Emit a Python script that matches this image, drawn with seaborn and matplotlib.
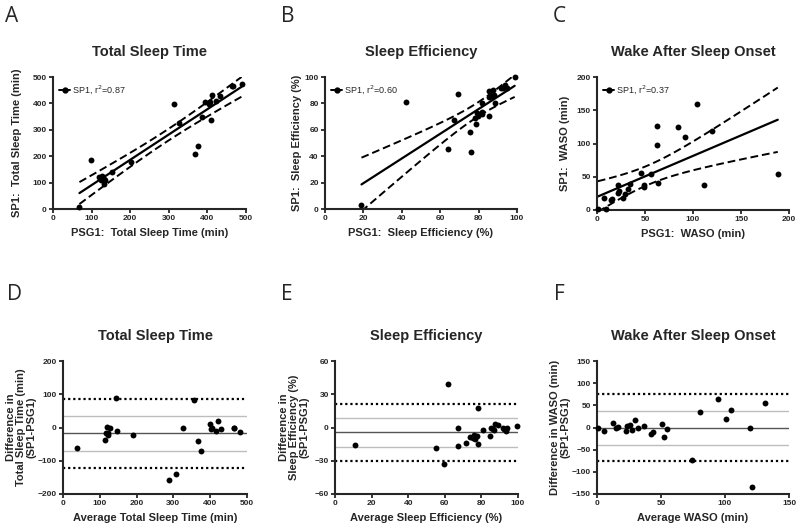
"""SP1 vs PSG1: correlation (top row) and Bland-Altman (bottom row)"""

import numpy as np
import pandas as pd
import matplotlib
matplotlib.use("Agg")
import matplotlib.pyplot as plt
from matplotlib.lines import Line2D
import seaborn as sns

# --- data ---------------------------------------------------------------------
psg_tst = [68.5, 133, 123.8, 119, 131, 135, 128, 98.5, 154, 202, 367.5, 376.5, 326,
           314, 387, 409.5, 393.5, 403.5, 407.5, 422, 411.5, 432, 465, 467, 488.5]
sp_tst = [7.5, 95, 108.2, 121, 115, 111, 126, 187.5, 142, 178, 208.5, 237.5, 326,
          396, 347, 338.5, 404.5, 398.5, 404.5, 410, 430.5, 428, 465, 465, 473.5]

psg_se = [19.0, 64.2, 76.0, 42.4, 67.2, 75.7, 78.7, 78.2, 79.9, 79.4, 81.6, 81.6, 85.4,
          69.1, 82.0, 88.5, 85.2, 86.8, 88.0, 85.6, 87.5, 91.6, 92.8, 94.9, 94.0, 98.8]
sp_se = [2.8, 45.8, 43.0, 81.4, 67.2, 58.7, 64.7, 69.2, 70.6, 72.4, 71.6, 73.6, 70.4,
         87.1, 80.0, 80.5, 85.2, 85.8, 86.0, 89.1, 90.2, 91.6, 91.8, 91.9, 94.0, 99.8]

psg_waso = [0.8, 9.7, 7.8, 15.0, 15.7, 27.5, 21.5, 23.0, 29.5, 21.8, 32.5, 34.3, 49.0,
            48.8, 46.0, 63.6, 56.5, 111.0, 62.7, 62.5, 91.3, 84.1, 119.5, 188.3, 103.7]
sp_waso = [0.8, 1.7, 17.8, 15.0, 17.2, 18.5, 26.0, 28.0, 24.5, 38.3, 31.5, 38.8, 35.0,
           38.3, 55.0, 41.1, 53.5, 38.0, 97.7, 126.5, 110.3, 124.7, 119.5, 53.7, 159.3]

titles = ["Total Sleep Time", "Sleep Efficiency", "Wake After Sleep Onset"]
r2_text = ["0.87", "0.60", "0.37"]
top_xlabels = ["PSG1:  Total Sleep Time (min)", "PSG1:  Sleep Efficiency (%)", "PSG1:  WASO (min)"]
top_ylabels = ["SP1:  Total Sleep Time (min)", "SP1:  Sleep Efficiency (%)", "SP1:  WASO (min)"]
bot_xlabels = ["Average Total Sleep Time (min)", "Average Sleep Efficiency (%)", "Average WASO (min)"]
bot_ylabels = ["Difference in\nTotal Sleep Time (min)\n(SP1-PSG1)",
               "Difference in\nSleep Efficiency (%)\n(SP1-PSG1)",
               "Difference in WASO (min)\n(SP1-PSG1)"]
top_ticks = [np.arange(0, 501, 100), np.arange(0, 101, 20), np.arange(0, 201, 50)]
bot_xticks = [np.arange(0, 501, 100), np.arange(0, 101, 20), np.arange(0, 151, 50)]
bot_yticks = [np.arange(-200, 201, 100), np.arange(-60, 61, 30), np.arange(-150, 151, 50)]
letters = ["A", "B", "C", "D", "E", "F"]

T975 = {23: 2.069, 24: 2.064}

sns.set_style("ticks")
plt.rcParams["font.family"] = ["Liberation Sans", "DejaVu Sans"]
plt.rcParams["axes.linewidth"] = 1.5

fig = plt.figure(figsize=(8, 5.31), dpi=100)


def add_axes_px(l, r, t, b):
    return fig.add_axes([l / 800, 1 - b / 531, (r - l) / 800, (b - t) / 531])


top_pos = [(53, 246, 77, 209), (325, 517, 77, 209), (597, 789, 77, 210)]
bot_pos = [(63, 247, 361, 494), (335, 518, 361, 494), (597, 789, 361, 494)]
top_lab_x = [-0.16, -0.12, -0.14]
bot_lab_x = [-0.145, -0.14, -0.14]


def style_axes(ax):
    sns.despine(ax=ax)
    ax.tick_params(direction="out", length=3, width=1.3, labelsize=6, pad=1.5)
    for lab in ax.get_xticklabels() + ax.get_yticklabels():
        lab.set_fontweight("bold")


datasets = [(psg_tst, sp_tst), (psg_se, sp_se), (psg_waso, sp_waso)]

for i, (psg, sp) in enumerate(datasets):
    df = pd.DataFrame({"psg": psg, "sp": sp})
    df["avg"] = (df["psg"] + df["sp"]) / 2
    df["diff"] = df["sp"] - df["psg"]

    # ---- correlation panel
    ax = add_axes_px(*top_pos[i])
    x = df["psg"].to_numpy()
    y = df["sp"].to_numpy()
    n = len(x)
    slope, icpt = np.polyfit(x, y, 1)
    resid = y - (icpt + slope * x)
    s = np.sqrt((resid ** 2).sum() / (n - 2))
    xs = np.linspace(x.min(), x.max(), 100)
    se = s * np.sqrt(1 / n + (xs - x.mean()) ** 2 / ((x - x.mean()) ** 2).sum())
    yhat = icpt + slope * xs
    t = T975[n - 2]
    ax.plot(xs, yhat, color="black", lw=1.6)
    ax.plot(xs, yhat + t * se, color="black", lw=1.4, dashes=(4, 2))
    ax.plot(xs, yhat - t * se, color="black", lw=1.4, dashes=(4, 2))
    sns.scatterplot(data=df, x="psg", y="sp", color="black", s=18, linewidth=0,
                    ax=ax, clip_on=False, zorder=5, legend=False)
    lim = top_ticks[i]
    ax.set_xlim(lim[0], lim[-1])
    ax.set_ylim(lim[0], lim[-1])
    ax.set_xticks(lim)
    ax.set_yticks(lim)
    ax.set_title(titles[i], fontsize=10.5, fontweight="bold", pad=15)
    ax.set_xlabel(top_xlabels[i], fontsize=8, fontweight="bold", labelpad=4)
    ax.set_ylabel(top_ylabels[i], fontsize=8, fontweight="bold")
    ax.yaxis.set_label_coords(top_lab_x[i], 0.5)
    handle = Line2D([], [], color="black", lw=1.4, marker="o", markersize=3.5)
    ax.legend([handle], [f"SP1, r$^2$={r2_text[i]}"], loc="upper left", frameon=False,
              fontsize=6.5, handlelength=1.2, handletextpad=0.2, borderaxespad=0.3,
              bbox_to_anchor=(0.0, 1.0))
    style_axes(ax)

    # ---- Bland-Altman panel
    ax = add_axes_px(*bot_pos[i])
    mean_d = df["diff"].mean()
    sd_d = df["diff"].std()
    ax.axhline(mean_d, color="#555555", lw=1.0)
    for k in (-1, 1):
        ax.axhline(mean_d + k * sd_d, color="#bdbdbd", lw=1.0)
        ax.axhline(mean_d + k * 1.96 * sd_d, color="black", lw=1.6, ls=(0, (1, 1.3)))
    sns.scatterplot(data=df, x="avg", y="diff", color="black", s=18, linewidth=0,
                    ax=ax, clip_on=False, zorder=5, legend=False)
    ax.set_xlim(bot_xticks[i][0], bot_xticks[i][-1])
    ax.set_ylim(bot_yticks[i][0], bot_yticks[i][-1])
    ax.set_xticks(bot_xticks[i])
    ax.set_yticks(bot_yticks[i])
    ax.set_title(titles[i], fontsize=10.5, fontweight="bold", pad=15)
    ax.set_xlabel(bot_xlabels[i], fontsize=8, fontweight="bold", labelpad=4)
    ax.set_ylabel(bot_ylabels[i], fontsize=8, fontweight="bold", linespacing=1.05,
                  multialignment="center")
    ax.yaxis.set_label_coords(bot_lab_x[i], 0.5)
    style_axes(ax)

# panel letters
letter_xy = [(5, 22), (281, 22), (553, 22), (7, 300), (281, 300), (554, 300)]
for letter, (px, py) in zip(letters, letter_xy):
    fig.text(px / 800, 1 - py / 531, letter, fontsize=15, family=["Open Sans", "DejaVu Sans"],
             va="baseline", ha="left")

fig.savefig("out.png", dpi=100)
